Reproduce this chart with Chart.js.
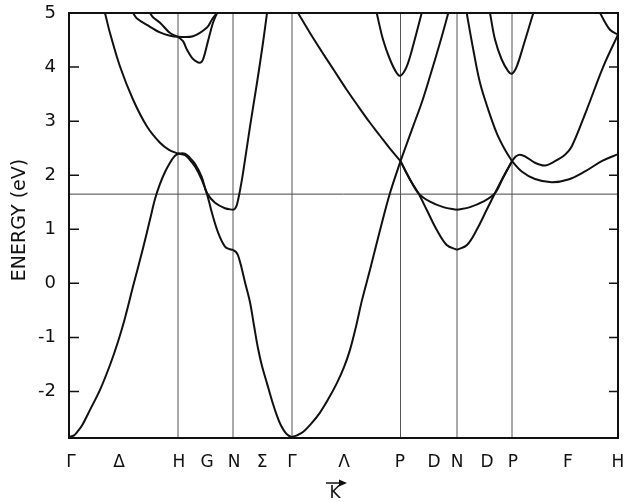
<!DOCTYPE html>
<html><head><meta charset="utf-8">
<script src="https://cdn.jsdelivr.net/npm/chart.js@4/dist/chart.umd.min.js"></script>
<style>html,body{margin:0;padding:0;background:#fff}</style>
</head><body>
<canvas id="c" width="624" height="502"></canvas>
<script>
// symmetry points along k (arbitrary path units)
const kSym = [0, 109, 164, 223, 331.5, 388, 443, 549];
const kLabels = ['Γ','Δ','H','G','N','Σ','Γ','Λ','P','D','N','D','P','F','H'];
const kLabelPos = [2, 50, 110, 138, 165, 193, 223, 275, 331, 365, 388, 418, 444, 499, 549];
const energyTicks = [-2, -1, 0, 1, 2, 3, 4, 5];
const eMin = -2.86, eMax = 5;
const fermiE = 1.65;

// bands: [k, E(eV)]
const gh1 = [[0,-2.84],[5,-2.81],[9,-2.73],[13,-2.63],[21,-2.34],[31,-1.97],[41,-1.51],[49,-1.08],[56,-0.64],[64,-0.06],[74,0.65],[81,1.18],[86,1.56],[91,1.84],[96,2.06],[101,2.23],[105,2.34],[109,2.40]];
const gh2 = [[36,5.0],[41,4.63],[51,4.01],[64,3.40],[78,2.90],[91,2.60],[100,2.47],[109,2.40]];
const outerArc = [[64,5.0],[68,4.9],[78,4.78],[91,4.64],[101,4.58],[109,4.56],[124,4.57],[138,4.73],[143,4.88],[148,5.0]];
const innerArc = [[81,5.0],[84,4.92],[91,4.82],[101,4.63],[109,4.56]];
const hnDip = [[109,4.56],[114,4.48],[118,4.32],[123,4.17],[126,4.12],[131,4.08],[134,4.14],[139,4.48],[144,4.82],[148,5.0]];
const hn1 = [[109,2.40],[116,2.37],[121,2.28],[126,2.16],[132.7,1.92],[138,1.65],[143,1.30],[149.3,0.93],[156,0.68],[161,0.63],[164,0.62]];
const hn2 = [[109,2.40],[116,2.40],[121,2.32],[126,2.21],[132.7,1.97],[138,1.67],[146,1.49],[156,1.39],[164,1.36]];
const ngUp = [[164,1.36],[166,1.38],[168,1.46],[171,1.72],[174,2.04],[181,2.90],[188,3.71],[194,4.45],[198,5.0]];
const ngDown = [[164,0.62],[167,0.58],[169,0.52],[172,0.33],[176,0.02],[181,-0.35],[185,-0.78],[189,-1.2],[193,-1.53],[198,-1.85],[203,-2.17],[208,-2.45],[212,-2.63],[216,-2.75],[220,-2.82],[223,-2.84]];
const gpDown = [[223,-2.84],[228,-2.81],[234,-2.75],[242,-2.6],[251,-2.39],[259,-2.15],[268,-1.84],[275,-1.55],[281,-1.23],[287,-0.8],[293,-0.31],[301,0.25],[311,0.98],[321,1.67],[331.5,2.26]];
const gpUp = [[229,5.0],[241,4.63],[253,4.28],[265,3.94],[277,3.6],[289,3.28],[301,2.97],[311,2.73],[321,2.49],[331.5,2.26]];
const p1Top = [[307.7,5.0],[314,4.51],[321,4.14],[327.7,3.89],[331.5,3.84],[337.7,4.01],[344,4.39],[352.7,5.0]];
const pnUp = [[331.5,2.26],[344,2.90],[352.7,3.34],[361,3.83],[371,4.45],[379.3,5.0]];
const pnA = [[331.5,2.26],[340,1.96],[349.3,1.67],[361,1.51],[374.3,1.41],[388,1.36]];
const pnB = [[331.5,2.26],[340,1.95],[349.3,1.67],[357.7,1.36],[367.7,0.99],[377.7,0.71],[388,0.62]];
const npA = [[388,1.36],[401,1.41],[414,1.51],[426,1.67],[434,1.95],[443,2.26]];
const npB = [[388,0.62],[398,0.71],[407.7,0.99],[417.7,1.36],[426,1.67],[434,1.96],[443,2.26]];
const npUp = [[397.7,5.0],[404.3,4.32],[411,3.71],[419.3,3.21],[427.7,2.78],[436,2.47],[443,2.26]];
const p2Top = [[421,5.0],[426,4.51],[432.7,4.14],[439.3,3.92],[443,3.88],[447.7,4.01],[454.3,4.39],[464.3,5.0]];
const fUp = [[443,2.26],[447,2.35],[451,2.38],[456,2.35],[466,2.23],[476,2.18],[486,2.26],[496,2.38],[502.7,2.53],[517.7,3.21],[534.3,4.01],[549,4.6]];
const fLow = [[443,2.26],[452.7,2.07],[466,1.93],[482.7,1.87],[499.3,1.92],[516,2.07],[532.7,2.26],[547.7,2.38],[549,2.39]];
const fTop = [[531,5.0],[541,4.69],[549,4.6]];

const bands = [gh1,gh2,outerArc,innerArc,hnDip,hn1,hn2,ngUp,ngDown,gpDown,gpUp,p1Top,pnUp,pnA,pnB,npA,npB,npUp,p2Top,fUp,fLow,fTop];

const toPts = arr => arr.map(([x,y]) => ({x, y}));
const datasets = [];
bands.forEach(b => datasets.push({
  data: toPts(b), borderColor: '#111', borderWidth: 2, pointRadius: 0,
  tension: 0.35, fill: false
}));
kSym.slice(1, -1).forEach(k => datasets.push({
  data: [{x:k, y:eMin}, {x:k, y:eMax}], borderColor: '#555', borderWidth: 1, pointRadius: 0, fill:false
}));
datasets.push({data: [{x:kSym[0], y:fermiE}, {x:kSym[kSym.length-1], y:fermiE}], borderColor:'#444', borderWidth:1, pointRadius:0, fill:false});

const FONT = '"DejaVu Sans", sans-serif';
const decor = {
  id: 'decor',
  afterDraw(chart) {
    const {ctx, chartArea: a, scales: {y}} = chart;
    ctx.save();
    ctx.strokeStyle = '#111';
    ctx.lineWidth = 2;
    ctx.strokeRect(a.left, a.top, a.right - a.left, a.bottom - a.top);
    ctx.lineWidth = 1.5;
    energyTicks.forEach(v => {
      const py = y.getPixelForValue(v);
      ctx.beginPath();
      ctx.moveTo(a.left, py); ctx.lineTo(a.left + 10, py);
      ctx.moveTo(a.right, py); ctx.lineTo(a.right - 9, py);
      ctx.stroke();
    });
    // y title
    ctx.save();
    ctx.translate(20, 220);
    ctx.rotate(-Math.PI / 2);
    ctx.font = '19px ' + FONT;
    ctx.fillStyle = '#111';
    ctx.textAlign = 'center';
    ctx.textBaseline = 'middle';
    ctx.fillText('ENERGY (eV)', 0, 0);
    ctx.restore();
    // k vector label
    const kx = 335;
    ctx.font = '17px ' + FONT;
    ctx.fillStyle = '#111';
    ctx.textAlign = 'center';
    ctx.textBaseline = 'middle';
    ctx.fillText('K', kx, 494);
    ctx.lineWidth = 1.5;
    ctx.beginPath();
    ctx.moveTo(kx - 9, 483); ctx.lineTo(kx + 10, 483);
    ctx.stroke();
    ctx.beginPath();
    ctx.moveTo(kx + 12, 483); ctx.lineTo(kx + 4, 479.5); ctx.lineTo(kx + 4, 486.5); ctx.closePath();
    ctx.fill();
    ctx.restore();
  }
};

new Chart(document.getElementById('c'), {
  type: 'line',
  data: { datasets },
  options: {
    responsive: false,
    animation: false,
    layout: { autoPadding: false, padding: { top: 13, right: 6, left: 0, bottom: 0 } },
    plugins: { legend: { display: false }, tooltip: { enabled: false } },
    scales: {
      x: {
        type: 'linear', min: kSym[0], max: kSym[kSym.length - 1],
        afterFit: s => { s.height = 64; s.paddingLeft = 0; s.paddingRight = 0; },
        afterBuildTicks: s => { s.ticks = kLabelPos.map(v => ({value: v})); },
        grid: { display: false, drawTicks: false },
        border: { display: false },
        ticks: {
          autoSkip: false, maxRotation: 0, padding: 14, color: '#111',
          font: { family: FONT, size: 17 },
          callback: (v, i) => kLabels[i]
        }
      },
      y: {
        type: 'linear', min: eMin, max: eMax,
        afterFit: s => { s.width = 69; s.paddingTop = 0; s.paddingBottom = 0; },
        afterBuildTicks: s => { s.ticks = energyTicks.map(v => ({value: v})); },
        grid: { display: false, drawTicks: false },
        border: { display: false },
        ticks: { padding: 13, color: '#111', font: { family: FONT, size: 18 }, callback: v => String(v) }
      }
    }
  },
  plugins: [decor]
});
</script>
</body></html>
